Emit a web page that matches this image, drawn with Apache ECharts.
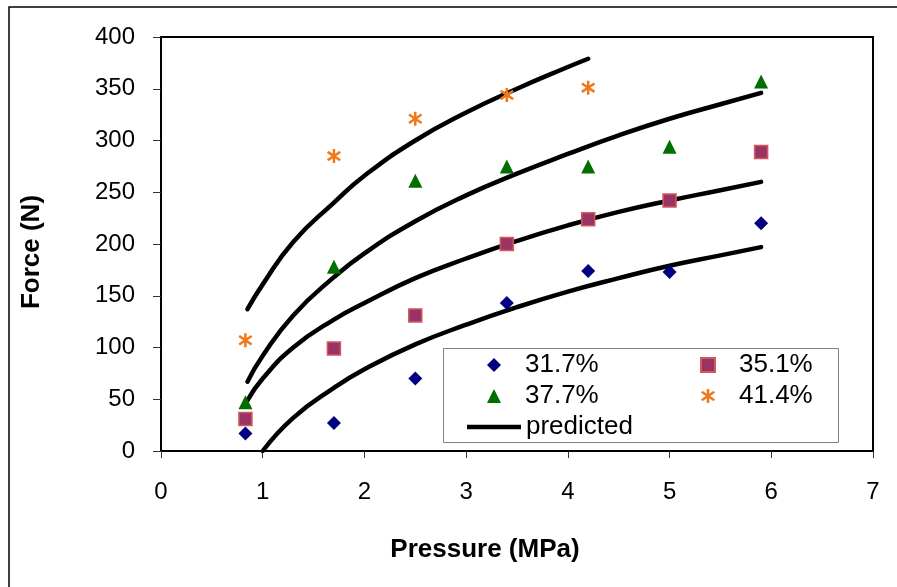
<!DOCTYPE html>
<html>
<head>
<meta charset="utf-8">
<script src="https://cdn.jsdelivr.net/npm/echarts@6/dist/echarts.min.js"></script>
<style>
html,body{margin:0;padding:0;background:#fff;}
#chart{width:897px;height:587px;}
</style>
</head>
<body>
<div id="chart"></div>
<script>
// Measured pressures (MPa)
var pressure = [0.83, 1.7, 2.5, 3.4, 4.2, 5.0, 5.9];
// Measured forces (N) per moisture level
var force317 = [17, 27, 70, 143, 174, 173, 220];
var force351 = [31, 99, 131, 200, 224, 242, 289];
var force377 = [47, 178, 261, 275, 275, 294, 357];
var force414 = [107, 285, 321, 344, 351];

// Predicted curves
var predX1 = [1.0, 1.3, 1.7, 2.0, 2.5, 3.0, 3.5, 4.0, 4.5, 5.0, 5.5, 5.9];
var pred1  = [0, 32, 61, 79, 103, 122, 139, 154, 167, 179, 189, 197];
var predX2 = [0.85, 1.0, 1.3, 1.7, 2.0, 2.5, 3.0, 3.5, 4.0, 4.5, 5.0, 5.5, 5.9];
var pred2  = [49, 70, 100, 127, 143, 167, 186, 203, 218, 231, 242, 252, 260];
var predX3 = [0.85, 1.0, 1.3, 1.7, 2.0, 2.5, 3.0, 3.5, 4.0, 4.5, 5.0, 5.5, 5.9];
var pred3  = [67, 92, 131, 168, 191, 222, 247, 268, 287, 305, 321, 335, 346];
var predX4 = [0.85, 1.0, 1.3, 1.7, 2.0, 2.5, 3.0, 3.5, 4.0, 4.2];
var pred4  = [137, 161, 202, 240, 266, 300, 327, 350, 371, 379];

var seriesNames = ['31.7%', '35.1%', '37.7%', '41.4%'];
var predName = 'predicted';
var xTitle = 'Pressure (MPa)';
var yTitle = 'Force (N)';

function pairs(xs, ys) {
  var out = [];
  for (var i = 0; i < ys.length; i++) out.push([xs[i], ys[i]]);
  return out;
}

var FONT = 'Arial, "Liberation Sans", sans-serif';
var STAR = 'path://M4.1,0L5.9,0L5.9,10L4.1,10Z M1.0,1.25L10.0,7.25L9.0,8.75L0,2.75Z M0,7.25L9.0,1.25L10.0,2.75L1.0,8.75Z';
var LINE_ICON = 'path://M0,0L54,0L54,4.5L0,4.5Z';

var chart = echarts.init(document.getElementById('chart'), null, {renderer: 'canvas'});

function predSeries(xs, ys) {
  return {
    name: predName, type: 'line', data: pairs(xs, ys),
    smooth: 0.5, symbol: 'none', z: 1,
    itemStyle: {color: '#000'},
    lineStyle: {color: '#000', width: 4.5, cap: 'round', join: 'round'}
  };
}

var legendText = {fontSize: 26, fontFamily: FONT, color: '#000'};
var legendTextPad = {fontSize: 26, fontFamily: FONT, color: '#000', padding: [0, 0, 0, 19]};

chart.setOption({
  animation: false,
  backgroundColor: '#fff',
  grid: {left: 161, right: 24, top: 37, bottom: 136, show: true, borderColor: '#000', borderWidth: 2, backgroundColor: 'transparent'},
  xAxis: {
    type: 'value', min: 0, max: 7, interval: 1,
    axisLine: {show: true, lineStyle: {color: '#000', width: 2}},
    axisTick: {show: true, length: 7, lineStyle: {color: '#333', width: 1}},
    axisLabel: {fontSize: 24, fontFamily: FONT, color: '#000', margin: 29},
    splitLine: {show: false}
  },
  yAxis: {
    type: 'value', min: 0, max: 400, interval: 50,
    axisLine: {show: true, lineStyle: {color: '#000', width: 2}},
    axisTick: {show: true, length: 8, lineStyle: {color: '#333', width: 1}},
    axisLabel: {fontSize: 24, fontFamily: FONT, color: '#000', margin: 26},
    splitLine: {show: false}
  },
  legend: [
    {
      data: [seriesNames[0], seriesNames[2]],
      orient: 'vertical', left: 487, top: 352, itemWidth: 14, itemHeight: 14, itemGap: 5,
      padding: 0, selectedMode: false, textStyle: legendTextPad, z: 6
    },
    {
      data: [seriesNames[1], seriesNames[3]],
      orient: 'vertical', left: 700, top: 352, itemWidth: 14, itemHeight: 14, itemGap: 5,
      padding: 0, selectedMode: false, textStyle: legendTextPad, z: 6
    },
    {
      data: [{name: predName, icon: LINE_ICON}],
      orient: 'vertical', left: 467, top: 414, itemWidth: 54, itemHeight: 14, itemGap: 5,
      padding: 0, selectedMode: false, textStyle: legendText, z: 6
    }
  ],
  graphic: [
    {type: 'rect', z: -1, silent: true, shape: {x: 9, y: 7, width: 900, height: 600},
     style: {fill: 'none', stroke: '#000', lineWidth: 1.5}},
    {type: 'rect', z: 5, silent: true, shape: {x: 443.5, y: 348.5, width: 395, height: 94},
     style: {fill: '#fff', stroke: '#808080', lineWidth: 1}},
    {type: 'text', x: 485, y: 550, silent: true,
     style: {text: xTitle, font: 'bold 26px ' + FONT, fill: '#000', textAlign: 'center', textVerticalAlign: 'middle'}},
    {type: 'text', x: 32, y: 252, rotation: Math.PI / 2, silent: true,
     style: {text: yTitle, font: 'bold 26px ' + FONT, fill: '#000', textAlign: 'center', textVerticalAlign: 'middle'}}
  ],
  series: [
    predSeries(predX1, pred1),
    predSeries(predX2, pred2),
    predSeries(predX3, pred3),
    predSeries(predX4, pred4),
    {name: seriesNames[0], type: 'scatter', data: pairs(pressure, force317), symbol: 'diamond', symbolSize: 14, z: 3,
     itemStyle: {color: '#000080', opacity: 1}},
    {name: seriesNames[1], type: 'scatter', data: pairs(pressure, force351), symbol: 'rect', symbolSize: 13, z: 3,
     itemStyle: {color: '#993366', borderColor: '#d05a5a', borderWidth: 1.5, opacity: 1}},
    {name: seriesNames[2], type: 'scatter', data: pairs(pressure, force377), symbol: 'triangle', symbolSize: 14, z: 3,
     itemStyle: {color: '#006f00', opacity: 1}},
    {name: seriesNames[3], type: 'scatter', data: pairs(pressure, force414), symbol: STAR, symbolSize: 14, z: 3,
     itemStyle: {color: '#f07818', opacity: 1}}
  ]
});
</script>
</body>
</html>
